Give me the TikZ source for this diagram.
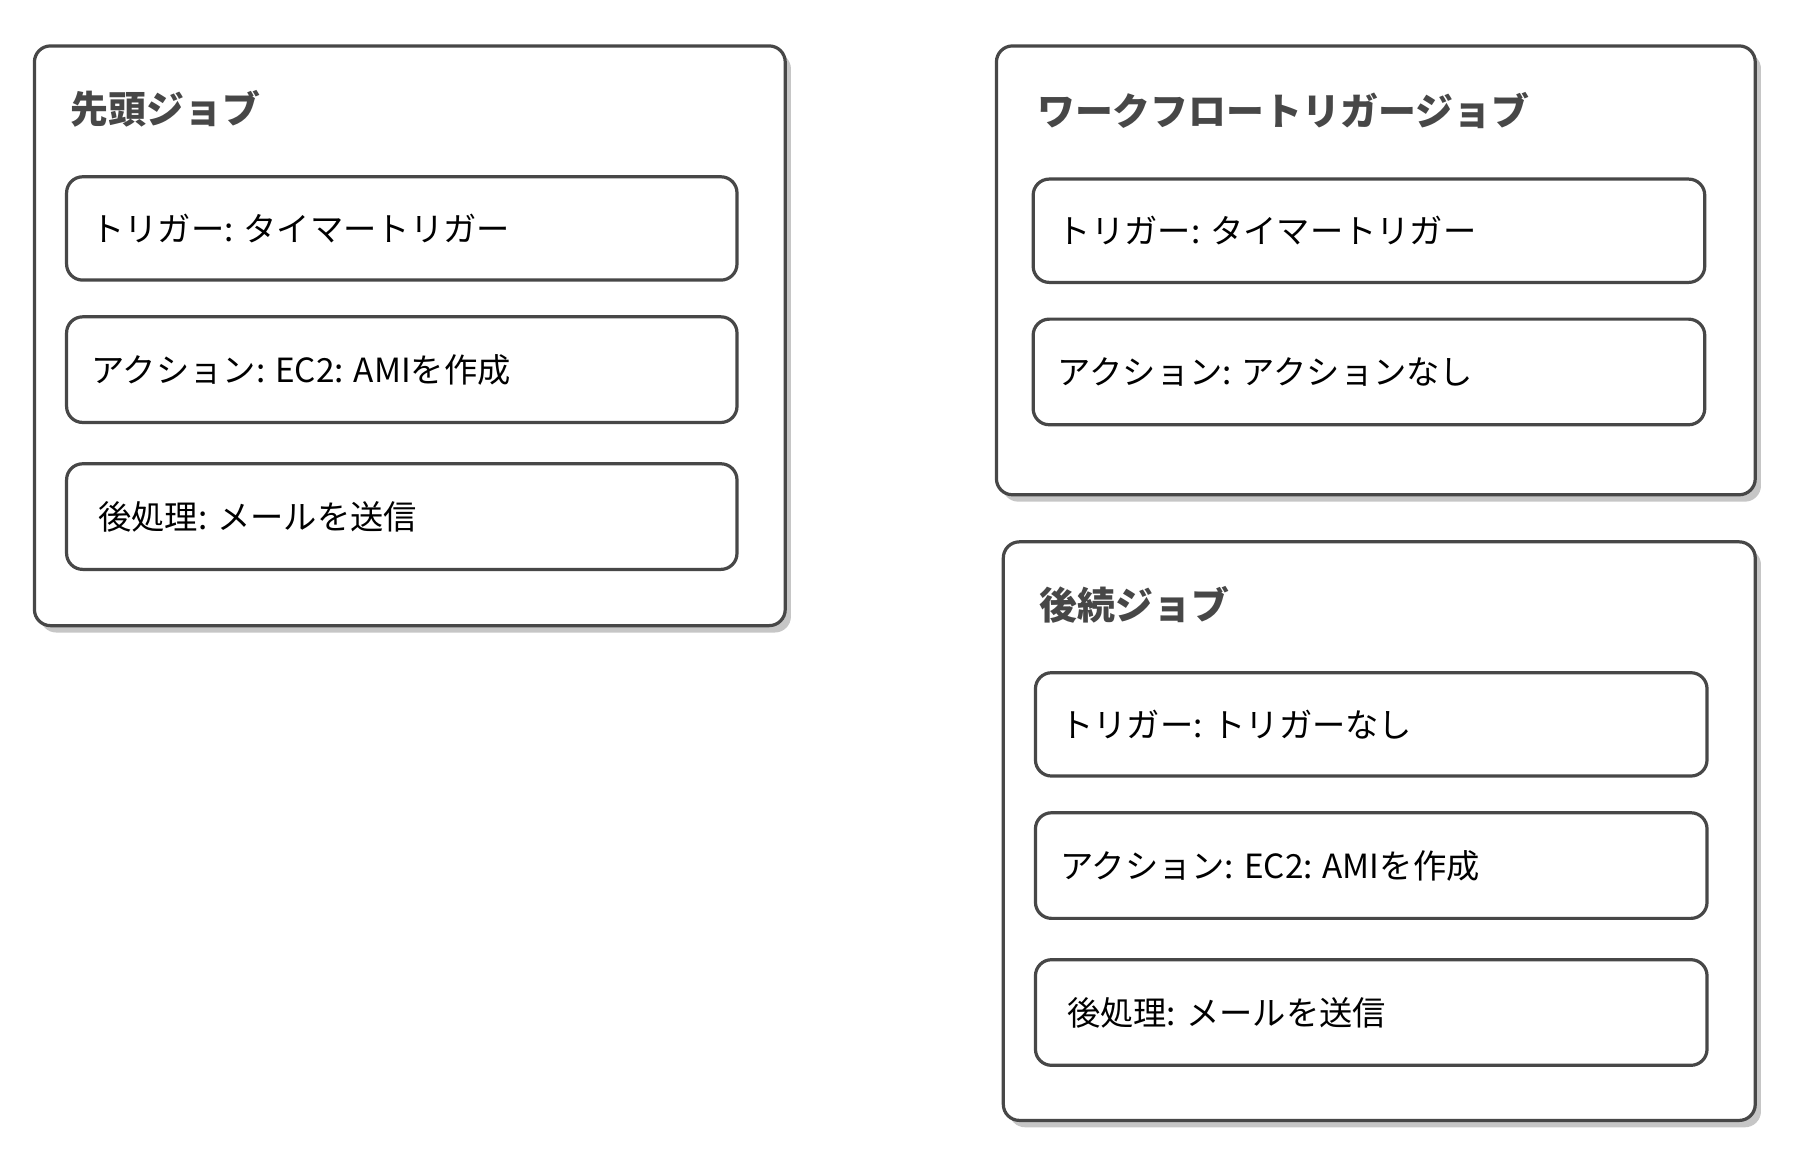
\documentclass[tikz,border=0pt]{standalone}
\usepackage{fontspec}
\setmainfont{Noto Sans CJK JP}
\usetikzlibrary{shadows}
\definecolor{edge}{HTML}{474747}
\tikzset{
  jobbox/.style={draw=edge, line width=2.8pt, rounded corners=14pt, fill=white,
    drop shadow={shadow xshift=5pt, shadow yshift=-6pt, opacity=0.45, fill=gray}},
  itembox/.style={draw=edge, line width=2.8pt, rounded corners=14pt, fill=white},
  title/.style={anchor=west, font=\fontsize{33}{38}\selectfont\bfseries, text=edge},
  item/.style={anchor=west, font=\fontsize{29}{34}\selectfont, text=black}
}
\begin{document}
\begin{tikzpicture}[x=1pt,y=-1pt]
\useasboundingbox (0,0) rectangle (1568,1017);

% first job
\draw[jobbox] (30,40) rectangle (684,545);
\node[title] (t1) at (58,95) {先頭ジョブ};
\draw[itembox] (58,154) rectangle (642,244);
\node[item] (a1) at (76,199) {トリガー: タイマートリガー};
\draw[itembox] (58,276) rectangle (642,368);
\node[item] (a2) at (76,322) {アクション: EC2: AMIを作成};
\draw[itembox] (58,404) rectangle (642,496);
\node[item] (a3) at (82,450) {後処理: メールを送信};

% workflow trigger job
\draw[jobbox] (868,40) rectangle (1529,431);
\node[title] (t2) at (900,96) {ワークフロートリガージョブ};
\draw[itembox] (900,156) rectangle (1485,246);
\node[item] (b1) at (918,201) {トリガー: タイマートリガー};
\draw[itembox] (900,278) rectangle (1485,370);
\node[item] (b2) at (918,324) {アクション: アクションなし};

% following job
\draw[jobbox] (874,472) rectangle (1529,976);
\node[title] (t3) at (902,527) {後続ジョブ};
\draw[itembox] (902,586) rectangle (1487,676);
\node[item] (c1) at (920,631) {トリガー: トリガーなし};
\draw[itembox] (902,708) rectangle (1487,800);
\node[item] (c2) at (920,754) {アクション: EC2: AMIを作成};
\draw[itembox] (902,836) rectangle (1487,928);
\node[item] (c3) at (926,882) {後処理: メールを送信};

\end{tikzpicture}
\end{document}
